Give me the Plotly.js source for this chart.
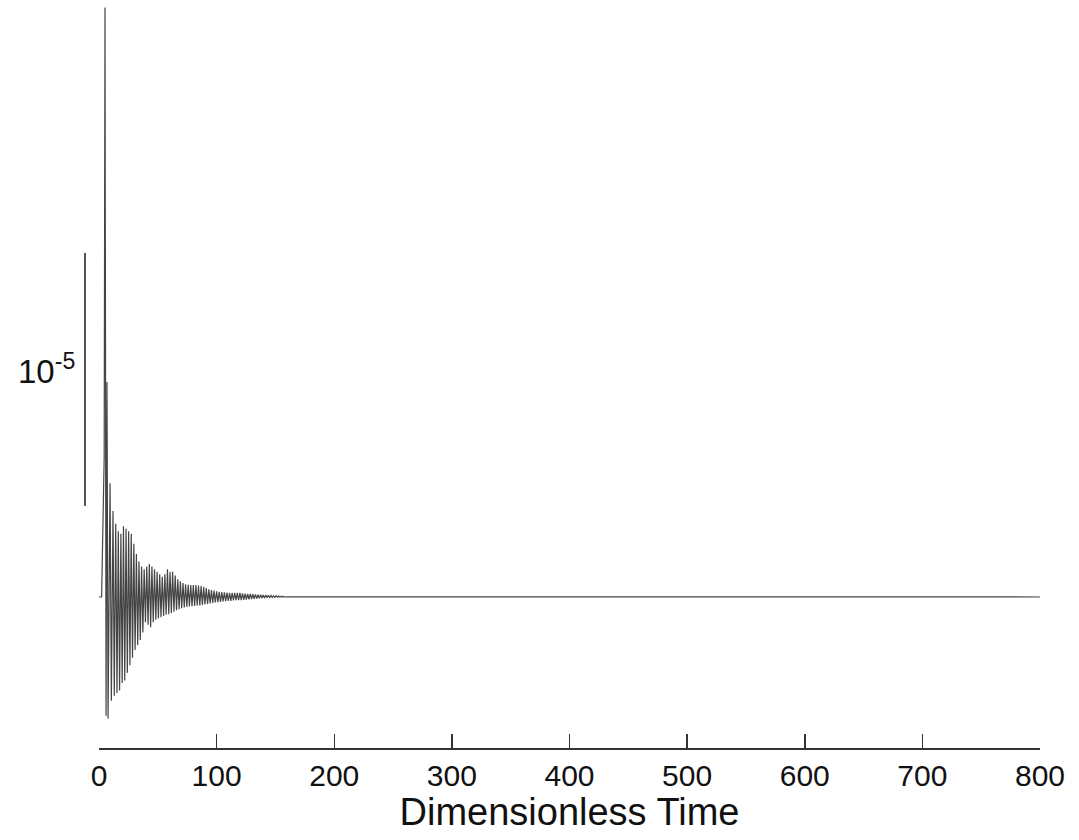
<!DOCTYPE html>
<html>
<head>
<meta charset="utf-8">
<script src="https://cdn.plot.ly/plotly-3.0.1.min.js"></script>
<style>
  html, body { margin: 0; padding: 0; background: #fff; }
  #chart { width: 1079px; height: 840px; }
</style>
</head>
<body>
<div id="chart"></div>
<script>
// Dimensionless time of the read peaks / troughs
const time = [
  0, 2.2, 4.4, 5.1, 6.0, 6.8, 7.7, 9.4, 10.5, 11.9, 13.0, 14.2, 15.3, 16.4, 17.5, 18.6, 19.7, 20.8, 21.9, 23.0,
  24.1, 25.2, 26.3, 27.4, 28.5, 29.6, 30.7, 31.8, 32.9, 34.0, 35.1, 36.2, 37.3, 38.4, 39.5, 40.6, 41.7, 42.8, 43.9, 45.0,
  46.1, 47.2, 48.3, 49.4, 50.5, 51.6, 52.7, 53.8, 54.9, 56.0, 57.1, 58.2, 59.3, 60.4, 61.5, 62.6, 63.7, 64.8, 65.9, 67.0,
  68.1, 69.2, 70.3, 71.4, 72.5, 73.6, 74.7, 75.8, 76.9, 78.0, 79.1, 80.2, 81.3, 82.4, 83.5, 84.6, 85.7, 86.8, 87.9, 89.0,
  90.1, 91.2, 92.3, 93.4, 94.5, 95.6, 96.7, 97.8, 98.9, 100.0, 101.1, 102.2, 103.3, 104.4, 105.5, 106.6, 107.7, 108.8, 109.9, 111.0,
  112.1, 113.2, 114.3, 115.4, 116.5, 117.6, 118.7, 119.8, 120.9, 122.0, 123.1, 124.2, 125.3, 126.4, 127.5, 128.6, 129.7, 130.8, 131.9, 133.0,
  134.1, 135.2, 136.3, 137.4, 138.5, 139.6, 140.7, 141.8, 142.9, 144.0, 145.1, 146.2, 147.3, 148.4, 149.5, 150.6, 151.7, 152.8, 153.9, 155.0,
  156.1, 157.2, 158.3, 160, 800
];
// Amplitude, in units of 10^-5
const amplitude = [
  0, 0, 0.55, 2.33, -0.47, 0.85, -0.48, 0.45, -0.41, 0.34, -0.39, 0.29, -0.38, 0.26, -0.37, 0.25, -0.34, 0.28, -0.33, 0.27,
  -0.30, 0.26, -0.27, 0.25, -0.24, 0.21, -0.21, 0.17, -0.19, 0.14, -0.17, 0.12, -0.14, 0.11, -0.10, 0.12, -0.11, 0.13, -0.12, 0.12,
  -0.10, 0.11, -0.09, 0.10, -0.085, 0.09, -0.08, 0.08, -0.075, 0.09, -0.07, 0.11, -0.068, 0.10, -0.063, 0.10, -0.058, 0.085, -0.052, 0.07,
  -0.048, 0.062, -0.044, 0.055, -0.041, 0.05, -0.039, 0.048, -0.037, 0.047, -0.036, 0.047, -0.035, 0.047, -0.034, 0.045, -0.034, 0.043, -0.032, 0.04,
  -0.03, 0.035, -0.028, 0.03, -0.026, 0.027, -0.024, 0.025, -0.022, 0.022, -0.021, 0.02, -0.02, 0.019, -0.018, 0.018, -0.017, 0.017, -0.016, 0.016,
  -0.015, 0.016, -0.014, 0.016, -0.013, 0.016, -0.012, 0.016, -0.012, 0.014, -0.011, 0.013, -0.010, 0.012, -0.009, 0.012, -0.008, 0.011, -0.007, 0.010,
  -0.006, 0.009, -0.005, 0.009, -0.004, 0.008, -0.004, 0.008, -0.003, 0.007, -0.003, 0.006, -0.002, 0.005, -0.002, 0.005, -0.001, 0.004, -0.001, 0.003,
  0, 0.002, 0, 0.001, 0
];
// Scale bar: one unit of 10^-5
const scaleBar = [0.36, 1.36];
const scaleLabel = "10<sup>-5</sup>";
const xTicks = [0, 100, 200, 300, 400, 500, 600, 700, 800];
const xTitle = "Dimensionless Time";

const trace = {
  x: time, y: amplitude, type: 'scatter', mode: 'lines',
  line: { color: '#444', width: 1.2 },
  hoverinfo: 'skip', showlegend: false
};

const layout = {
  width: 1079, height: 840,
  margin: { l: 99, r: 39, t: 0, b: 92 },
  paper_bgcolor: '#fff', plot_bgcolor: '#fff',
  font: { family: 'Liberation Sans, Arial, sans-serif', color: '#111' },
  showlegend: false,
  xaxis: {
    range: [0, 800], tickvals: xTicks, ticktext: xTicks.map(String),
    showline: true, linecolor: '#333', linewidth: 1.5,
    ticks: 'inside', ticklen: 14, tickwidth: 1.5, tickcolor: '#333',
    showgrid: false, zeroline: false,
    tickfont: { size: 30, family: 'Liberation Sans, Arial, sans-serif', color: '#111' },
    title: { text: xTitle, font: { size: 38, family: 'Liberation Sans, Arial, sans-serif', color: '#111' }, standoff: 4 }
  },
  yaxis: {
    range: [-0.597, 2.36], visible: false, showgrid: false, zeroline: false
  },
  shapes: [{
    type: 'line', xref: 'paper', yref: 'y',
    x0: -0.0149, x1: -0.0149, y0: scaleBar[0], y1: scaleBar[1],
    line: { color: '#555', width: 2 }
  }],
  annotations: [{
    text: scaleLabel, xref: 'paper', yref: 'y',
    x: -0.0234, y: (scaleBar[0] + scaleBar[1]) / 2 + 0.04,
    xanchor: 'right', yanchor: 'middle', showarrow: false,
    font: { size: 33, family: 'Liberation Sans, Arial, sans-serif', color: '#111' }
  }]
};

Plotly.newPlot('chart', [trace], layout, { displayModeBar: false, staticPlot: true });
</script>
</body>
</html>
